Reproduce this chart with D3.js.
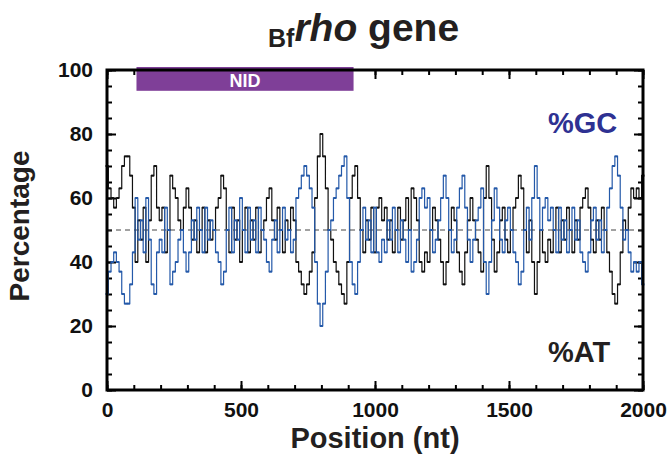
<!DOCTYPE html>
<html>
<head>
<meta charset="utf-8">
<script src="https://cdn.jsdelivr.net/npm/d3@7"></script>
<style>
  body { margin: 0; background: #fff; }
  text { font-family: "Liberation Sans", Arial, sans-serif; font-weight: bold; }
</style>
</head>
<body>
<div class="chart"></div>
<script>
// window positions (nt), every 10 nt
var positions = d3.range(0, 2001, 10);

// %GC per window
var gcValues = [
  30, 37, 40, 43, 40, 37, 30, 27, 27, 33,
  43, 60, 47, 53, 43, 60, 47, 33, 30, 43,
  47, 43, 57, 50, 33, 37, 40, 47, 50, 43,
  37, 43, 53, 47, 57, 50, 43, 57, 47, 53,
  50, 43, 40, 33, 37, 50, 57, 43, 53, 47,
  60, 50, 43, 57, 47, 53, 43, 57, 50, 47,
  40, 37, 47, 53, 43, 50, 57, 47, 50, 43,
  47, 60, 63, 67, 70, 67, 63, 57, 40, 27,
  20, 27, 37, 50, 53, 60, 63, 67, 70, 73,
  60, 40, 33, 30, 40, 50, 57, 47, 53, 43,
  57, 43, 40, 47, 43, 53, 47, 57, 50, 43,
  53, 47, 40, 50, 37, 40, 47, 60, 63, 57,
  60, 50, 43, 47, 53, 60, 67, 60, 50, 43,
  47, 57, 63, 67, 57, 47, 40, 47, 53, 57,
  63, 40, 30, 40, 53, 63, 57, 47, 43, 53,
  57, 50, 43, 40, 33, 37, 50, 57, 47, 60,
  70, 60, 50, 57, 60, 53, 57, 50, 43, 57,
  47, 53, 43, 50, 57, 47, 53, 43, 40, 37,
  43, 53, 57, 47, 53, 43, 50, 57, 63, 70,
  73, 67, 57, 47, 50, 43, 37, 40, 37, 40,
  33
];

// %AT per window
var atValues = [
  70, 63, 60, 57, 60, 63, 70, 73, 73, 67,
  57, 40, 53, 47, 57, 40, 53, 67, 70, 57,
  53, 57, 43, 50, 67, 63, 60, 53, 50, 57,
  63, 57, 47, 53, 43, 50, 57, 43, 53, 47,
  50, 57, 60, 67, 63, 50, 43, 57, 47, 53,
  40, 50, 57, 43, 53, 47, 57, 43, 50, 53,
  60, 63, 53, 47, 57, 50, 43, 53, 50, 57,
  53, 40, 37, 33, 30, 33, 37, 43, 60, 73,
  80, 73, 63, 50, 47, 40, 37, 33, 30, 27,
  40, 60, 67, 70, 60, 50, 43, 53, 47, 57,
  43, 57, 60, 53, 57, 47, 53, 43, 50, 57,
  47, 53, 60, 50, 63, 60, 53, 40, 37, 43,
  40, 50, 57, 53, 47, 40, 33, 40, 50, 57,
  53, 43, 37, 33, 43, 53, 60, 53, 47, 43,
  37, 60, 70, 60, 47, 37, 43, 53, 57, 47,
  43, 50, 57, 60, 67, 63, 50, 43, 53, 40,
  30, 40, 50, 43, 40, 47, 43, 50, 57, 43,
  53, 47, 57, 50, 43, 53, 47, 57, 60, 63,
  57, 47, 43, 53, 47, 57, 50, 43, 37, 30,
  27, 33, 43, 53, 50, 57, 63, 60, 63, 60,
  67
];

// domain annotation
var domainNames = ["NID"];
var domainStart = [110];
var domainEnd = [920];

var xTicks = [0, 500, 1000, 1500, 2000];
var yTicks = [0, 20, 40, 60, 80, 100];

var svgWidth = 668;
var svgHeight = 471;

var margin = { top: 70, bottom: 81, right: 25, left: 107 };
var width = svgWidth - margin.left - margin.right;
var height = svgHeight - margin.top - margin.bottom;

var svg = d3.select(".chart")
  .append("svg")
  .attr("width", svgWidth)
  .attr("height", svgHeight);

var chartGroup = svg.append("g")
  .attr("transform", `translate(${margin.left}, ${margin.top})`);

var xLinearScale = d3.scaleLinear().domain([0, 2000]).range([0, width]);
var yLinearScale = d3.scaleLinear().domain([0, 100]).range([height, 0]);

// minor ticks first, then major ticks with labels
function addAxis(axis, transform, cls) {
  var g = chartGroup.append("g")
    .attr("class", cls)
    .attr("transform", transform)
    .call(axis);
  g.select(".domain").remove();
  g.selectAll("line").attr("stroke", "#000").attr("stroke-width", 2);
  g.selectAll("text").attr("font-size", 21).attr("fill", "#111");
  return g;
}

var minorX = d3.range(0, 2001, 100);
var minorY = d3.range(0, 101, 5);

addAxis(d3.axisBottom(xLinearScale).tickValues(minorX).tickSize(-5).tickFormat(""), `translate(0, ${height})`, "x-minor");
addAxis(d3.axisTop(xLinearScale).tickValues(minorX).tickSize(-5).tickFormat(""), "translate(0, 0)", "x-minor-top");
addAxis(d3.axisLeft(yLinearScale).tickValues(minorY).tickSize(-5).tickFormat(""), "translate(0, 0)", "y-minor");
addAxis(d3.axisRight(yLinearScale).tickValues(minorY).tickSize(-5).tickFormat(""), `translate(${width}, 0)`, "y-minor-right");

addAxis(d3.axisBottom(xLinearScale).tickValues(xTicks).tickSize(-9).tickPadding(12).tickFormat(d3.format("d")), `translate(0, ${height})`, "x-axis");
addAxis(d3.axisTop(xLinearScale).tickValues(xTicks).tickSize(-9).tickFormat(""), "translate(0, 0)", "x-top");
addAxis(d3.axisLeft(yLinearScale).tickValues(yTicks).tickSize(-9).tickPadding(14), "translate(0, 0)", "y-axis");
addAxis(d3.axisRight(yLinearScale).tickValues(yTicks).tickSize(-9).tickFormat(""), `translate(${width}, 0)`, "y-right");

// 50% reference line
chartGroup.append("line")
  .attr("x1", 0)
  .attr("x2", width)
  .attr("y1", yLinearScale(50))
  .attr("y2", yLinearScale(50))
  .attr("stroke", "#444")
  .attr("stroke-width", 1)
  .attr("stroke-dasharray", "5,4");

// series lines
var series = [
  { values: atValues, color: "#111111" },
  { values: gcValues, color: "#2459a9" }
];

series.forEach(function(s) {
  var pts = positions.map((p, i) => [p, s.values[i]]);
  var line = d3.line()
    .x(d => xLinearScale(d[0]))
    .y(d => yLinearScale(d[1]))
    .curve(d3.curveStep);

  chartGroup.append("path")
    .datum(pts)
    .attr("d", line)
    .attr("fill", "none")
    .attr("stroke", s.color)
    .attr("stroke-width", 1.2);

  chartGroup.selectAll(null)
    .data(pts)
    .enter()
    .append("rect")
    .attr("x", d => xLinearScale(d[0]) - 1.5)
    .attr("y", d => yLinearScale(d[1]) - 1)
    .attr("width", 3)
    .attr("height", 2)
    .attr("fill", s.color);
});

// NID domain bar
domainNames.forEach(function(name, i) {
  var x0 = xLinearScale(domainStart[i]);
  var x1 = xLinearScale(domainEnd[i]);
  chartGroup.append("rect")
    .attr("x", x0)
    .attr("y", yLinearScale(100) - 3)
    .attr("width", x1 - x0)
    .attr("height", yLinearScale(93.5) - yLinearScale(100) + 3)
    .attr("fill", "#7f3f98");
  chartGroup.append("text")
    .attr("x", (x0 + x1) / 2)
    .attr("y", yLinearScale(96.6))
    .attr("dy", "0.35em")
    .attr("text-anchor", "middle")
    .attr("font-size", 18)
    .attr("fill", "#fff")
    .text(name);
});

// frame
chartGroup.append("rect")
  .attr("x", 0)
  .attr("y", 0)
  .attr("width", width)
  .attr("height", height)
  .attr("fill", "none")
  .attr("stroke", "#000")
  .attr("stroke-width", 3);

// series labels
chartGroup.append("text")
  .attr("x", 441)
  .attr("y", 63)
  .attr("font-size", 29)
  .attr("fill", "#2e3192")
  .text("%GC");

chartGroup.append("text")
  .attr("x", 441)
  .attr("y", 292)
  .attr("font-size", 29)
  .attr("fill", "#231f20")
  .text("%AT");

// title
var title = svg.append("text")
  .attr("x", 268)
  .attr("y", 41)
  .attr("fill", "#231f20");
title.append("tspan").attr("font-size", 25).attr("dy", 6).text("Bf");
title.append("tspan").attr("font-size", 39).attr("font-style", "italic").attr("dy", -6).text("rho");
title.append("tspan").attr("font-size", 39).text(" gene");

// axis titles
svg.append("text")
  .attr("transform", "translate(29, 226) rotate(-90)")
  .attr("text-anchor", "middle")
  .attr("font-size", 28)
  .attr("fill", "#231f20")
  .text("Percentage");

svg.append("text")
  .attr("x", 375)
  .attr("y", 448)
  .attr("text-anchor", "middle")
  .attr("font-size", 29)
  .attr("fill", "#231f20")
  .text("Position (nt)");
</script>
</body>
</html>
